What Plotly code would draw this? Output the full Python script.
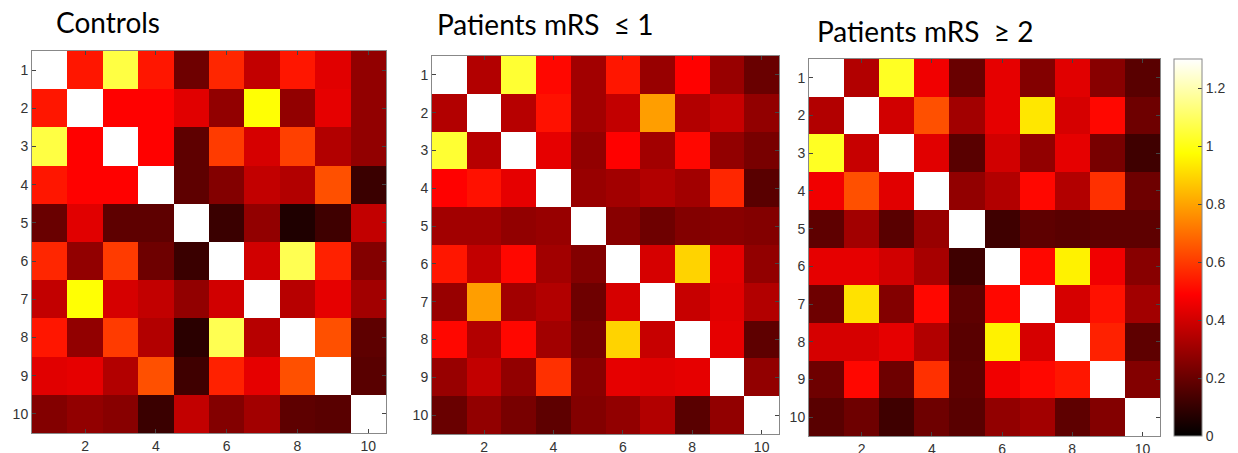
import plotly.graph_objects as go

# ---------------- data ----------------
labels = [1, 2, 3, 4, 5, 6, 7, 8, 9, 10]
x_tick_labels = [2, 4, 6, 8, 10]
cbar_ticks = [0, 0.2, 0.4, 0.6, 0.8, 1.0, 1.2]
cbar_ticktext = ["0", "0.2", "0.4", "0.6", "0.8", "1", "1.2"]
titles = ["Controls", "Patients mRS  \u2264 1", "Patients mRS  \u2265 2"]

controls = [
    [1.30, 0.53, 1.06, 0.53, 0.21, 0.56, 0.37, 0.53, 0.43, 0.28],
    [0.53, 1.30, 0.49, 0.49, 0.43, 0.28, 0.98, 0.28, 0.44, 0.28],
    [1.06, 0.49, 1.30, 0.49, 0.18, 0.60, 0.41, 0.61, 0.34, 0.28],
    [0.53, 0.49, 0.49, 1.30, 0.18, 0.25, 0.37, 0.34, 0.64, 0.11],
    [0.20, 0.43, 0.18, 0.18, 1.30, 0.11, 0.28, 0.06, 0.12, 0.37],
    [0.56, 0.28, 0.60, 0.21, 0.11, 1.30, 0.40, 1.08, 0.55, 0.25],
    [0.37, 0.98, 0.41, 0.37, 0.28, 0.40, 1.30, 0.35, 0.44, 0.31],
    [0.53, 0.28, 0.60, 0.34, 0.08, 1.08, 0.35, 1.30, 0.64, 0.18],
    [0.43, 0.44, 0.34, 0.64, 0.12, 0.55, 0.44, 0.64, 1.30, 0.17],
    [0.25, 0.28, 0.26, 0.11, 0.37, 0.25, 0.31, 0.18, 0.17, 1.30],
]

mrs_le1 = [
    [1.30, 0.34, 1.04, 0.50, 0.31, 0.53, 0.29, 0.49, 0.29, 0.20],
    [0.34, 1.30, 0.35, 0.52, 0.31, 0.37, 0.79, 0.34, 0.38, 0.28],
    [1.04, 0.35, 1.30, 0.44, 0.28, 0.49, 0.31, 0.50, 0.28, 0.23],
    [0.49, 0.52, 0.44, 1.30, 0.29, 0.31, 0.34, 0.31, 0.56, 0.17],
    [0.31, 0.31, 0.28, 0.29, 1.30, 0.26, 0.21, 0.25, 0.26, 0.25],
    [0.53, 0.37, 0.50, 0.31, 0.25, 1.30, 0.41, 0.89, 0.44, 0.28],
    [0.29, 0.79, 0.31, 0.34, 0.21, 0.41, 1.30, 0.38, 0.43, 0.34],
    [0.50, 0.34, 0.50, 0.31, 0.23, 0.89, 0.38, 1.30, 0.44, 0.18],
    [0.29, 0.37, 0.28, 0.58, 0.26, 0.44, 0.43, 0.44, 1.30, 0.28],
    [0.20, 0.28, 0.23, 0.18, 0.25, 0.28, 0.34, 0.17, 0.28, 1.30],
]

mrs_ge2 = [
    [1.30, 0.34, 1.02, 0.46, 0.20, 0.44, 0.25, 0.43, 0.26, 0.17],
    [0.34, 1.30, 0.40, 0.64, 0.31, 0.44, 0.93, 0.41, 0.50, 0.21],
    [1.02, 0.38, 1.30, 0.43, 0.17, 0.40, 0.28, 0.44, 0.23, 0.12],
    [0.46, 0.64, 0.43, 1.30, 0.28, 0.34, 0.50, 0.34, 0.58, 0.21],
    [0.18, 0.31, 0.17, 0.29, 1.30, 0.12, 0.18, 0.17, 0.18, 0.18],
    [0.44, 0.44, 0.40, 0.32, 0.12, 1.30, 0.50, 0.95, 0.46, 0.26],
    [0.21, 0.92, 0.25, 0.50, 0.18, 0.50, 1.30, 0.41, 0.52, 0.31],
    [0.41, 0.41, 0.44, 0.34, 0.17, 0.95, 0.41, 1.30, 0.55, 0.18],
    [0.21, 0.50, 0.21, 0.58, 0.18, 0.46, 0.50, 0.53, 1.30, 0.25],
    [0.17, 0.21, 0.12, 0.21, 0.17, 0.28, 0.31, 0.18, 0.25, 1.30],
]

# ---------------- layout helpers ----------------
W, H = 1238, 453
# pixel boxes (left, top, right, bottom)
boxes = [(32, 51, 386, 433), (432, 56, 779, 434), (809, 59, 1160, 436)]
title_pos = [(54, 22), (435, 24), (815, 31)]
cb_left, cb_top, cb_bottom = 1174, 59, 436

hot = [
    [0.0, "rgb(0,0,0)"],
    [0.375, "rgb(255,0,0)"],
    [0.75, "rgb(255,255,0)"],
    [1.0, "rgb(255,255,255)"],
]

fig = go.Figure()
mats = [controls, mrs_le1, mrs_ge2]
tick_font = dict(family="Liberation Sans, Arial, sans-serif", size=14, color="#333333")

for i, (m, box) in enumerate(zip(mats, boxes)):
    xa = "x" if i == 0 else f"x{i+1}"
    ya = "y" if i == 0 else f"y{i+1}"
    fig.add_trace(go.Heatmap(
        z=m, x=labels, y=labels, coloraxis="coloraxis",
        xaxis=xa, yaxis=ya, hoverinfo="skip"))
    l, t, r, b = box
    axis_common = dict(
        showgrid=False, zeroline=False, showline=True, linecolor="#888888",
        linewidth=1, mirror="ticks", ticks="inside", ticklen=4,
        tickcolor="#444444", tickwidth=1, tickfont=tick_font,
        automargin=False,
    )
    xkey = "xaxis" if i == 0 else f"xaxis{i+1}"
    ykey = "yaxis" if i == 0 else f"yaxis{i+1}"
    fig.update_layout(**{
        xkey: dict(domain=[l / W, r / W], anchor=ya, range=[0.5, 10.5],
                   tickvals=x_tick_labels, ticktext=[str(v) for v in x_tick_labels],
                   **axis_common),
        ykey: dict(domain=[1 - b / H, 1 - t / H], anchor=xa, range=[10.5, 0.5],
                   tickvals=labels, ticktext=[str(v) for v in labels],
                   **axis_common),
    })

for (tx, ty), txt in zip(title_pos, titles):
    fig.add_annotation(
        text=txt, x=tx / W, y=1 - ty / H, xref="paper", yref="paper",
        xanchor="left", yanchor="middle", showarrow=False,
        font=dict(family="Lato, Open Sans, sans-serif", size=28, color="#000000"))

fig.update_layout(
    width=W, height=H,
    margin=dict(l=0, r=0, t=0, b=0, autoexpand=False),
    paper_bgcolor="white", plot_bgcolor="white",
    showlegend=False,
    coloraxis=dict(
        colorscale=hot, cmin=0, cmax=1.3,
        colorbar=dict(
            x=cb_left / W, xanchor="left", xpad=0, ypad=0,
            y=1 - cb_bottom / H, yanchor="bottom",
            len=(cb_bottom - cb_top) / H, lenmode="fraction",
            thickness=28, thicknessmode="pixels",
            outlinewidth=1, outlinecolor="#888888",
            tickvals=cbar_ticks, ticktext=cbar_ticktext,
            ticks="inside", ticklen=4, tickcolor="#444444",
            tickfont=tick_font,
        ),
    ),
)

# remove the default 8px page margin so the figure fills the window exactly
fig.write_html("out.html", config={"displayModeBar": False},
               post_script="document.body.style.margin='0';")
